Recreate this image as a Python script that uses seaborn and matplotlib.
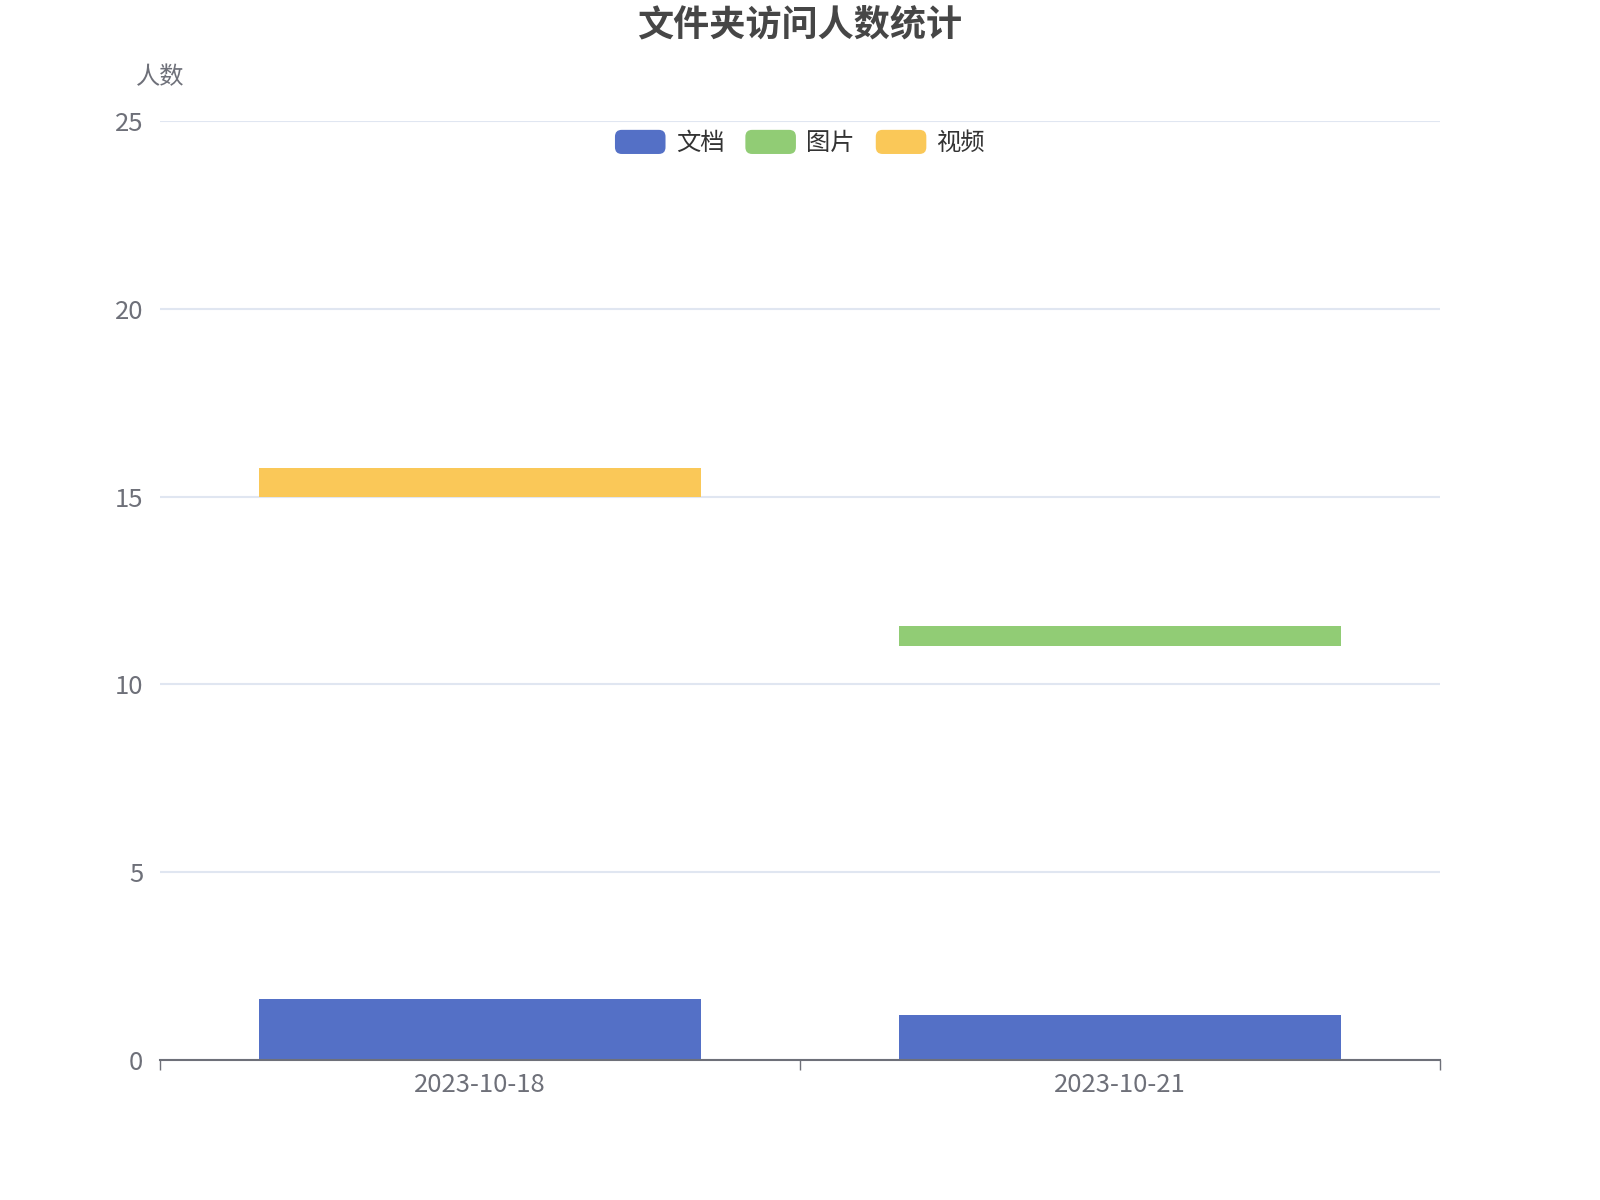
import numpy as np
import pandas as pd
import matplotlib
matplotlib.use("Agg")
import matplotlib.pyplot as plt
import matplotlib.patches as mpatches
from matplotlib.patches import FancyBboxPatch
from matplotlib.legend_handler import HandlerPatch
import seaborn as sns

# ---------------- data ----------------
dates = ["2023-10-18", "2023-10-21"]
series_names = ["文档", "图片", "视频"]
# each series: bar start (low) and bar end (high) per date; None = no bar
doc_low = [0.0, 0.0]
doc_high = [1.62, 1.21]
img_low = [None, 11.01]
img_high = [None, 11.55]
video_low = [15.0, None]
video_high = [15.77, None]
y_ticks = [0, 5, 10, 15, 20, 25]

colors = ["#5470c6", "#91cc75", "#fac858"]

# ---------------- style ----------------
sns.set_theme(style="white")
plt.rcParams["font.family"] = ["Noto Sans CJK SC", "DejaVu Sans"]
plt.rcParams["axes.unicode_minus"] = False

AX_COL = "#6E7079"
GRID_COL = "#E0E6F1"
LBL_SIZE = 18.5

fig = plt.figure(figsize=(16, 12), dpi=100)
ax = fig.add_axes([0.1, 1 - 1060 / 1200, 0.8, (1060 - 121) / 1200])

lows = [doc_low, img_low, video_low]
highs = [doc_high, img_high, video_high]
for name, lo, hi, col in zip(series_names, lows, highs, colors):
    for d, l, h in zip(dates, lo, hi):
        if l is None or h is None:
            continue
        sns.barplot(x=[d], y=[h - l], order=dates, bottom=l, color=col,
                    width=0.69, errorbar=None, linewidth=0, saturation=1,
                    ax=ax, zorder=3)

ax.set_xlim(-0.5, len(dates) - 0.5)
ax.set_ylim(0, 25)
ax.set_yticks(y_ticks)
ax.set_xlabel("")
ax.set_ylabel("")

# grid
ax.set_axisbelow(True)
ax.yaxis.grid(True, color=GRID_COL, linewidth=1.5)
ax.xaxis.grid(False)

for s in ["top", "right", "left"]:
    ax.spines[s].set_visible(False)
ax.spines["bottom"].set_color(AX_COL)
ax.spines["bottom"].set_linewidth(1.5)
ax.spines["bottom"].set_zorder(5)

ax.tick_params(axis="y", length=0, pad=12, labelsize=LBL_SIZE, labelcolor=AX_COL)
ax.tick_params(axis="x", which="major", length=0, pad=9, labelsize=LBL_SIZE, labelcolor=AX_COL)
ax.set_xticks(np.arange(-0.5, len(dates), 1.0), minor=True)
ax.tick_params(axis="x", which="minor", bottom=True, length=7.2, width=1.0,
               color=AX_COL, direction="out")

# title and axis name
fig.text(0.5, 1 - 25 / 1200, "文件夹访问人数统计", ha="center", va="center",
         fontsize=26, fontweight="bold", color="#464646")
fig.text(160 / 1600, 1 - 77 / 1200, "人数", ha="center", va="center",
         fontsize=17.5, color=AX_COL)


class RoundHandler(HandlerPatch):
    def create_artists(self, legend, orig_handle, xdescent, ydescent, width,
                       height, fontsize, trans):
        p = FancyBboxPatch((-xdescent, -ydescent), width, height,
                           boxstyle=f"round,pad=0,rounding_size={height * 0.28}",
                           facecolor=orig_handle.get_facecolor(),
                           edgecolor="none", transform=trans)
        return [p]


handles = [mpatches.Patch(facecolor=c, label=n) for n, c in zip(series_names, colors)]
fig.legend(handles=handles, loc="center", bbox_to_anchor=(0.5, 1 - 143 / 1200),
           ncol=3, frameon=False, fontsize=17.5, handlelength=2.08,
           handleheight=1.15, handletextpad=0.42, columnspacing=0.87,
           borderpad=0, labelcolor="#333333",
           handler_map={mpatches.Patch: RoundHandler()})

fig.savefig("out.png", dpi=100, facecolor="white")
